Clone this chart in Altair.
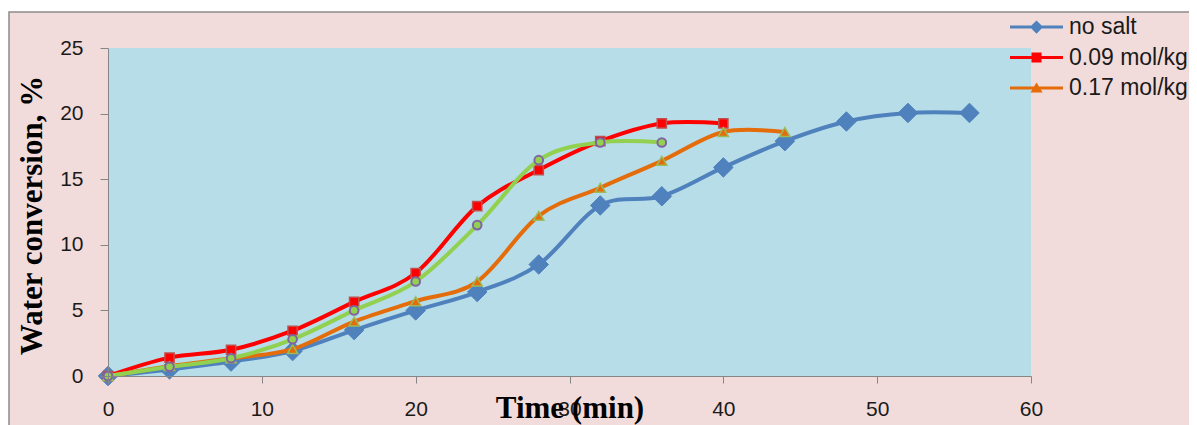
import altair as alt
import pandas as pd

# ---- data ----
series_names = ["no salt", "0.09 mol/kg", "0.17 mol/kg", "series 4"]

time_no_salt = [0, 4, 8, 12, 16, 20, 24, 28, 32, 36, 40, 44, 48, 52, 56]
conv_no_salt = [0, 0.5, 1.1, 1.9, 3.5, 5.0, 6.4, 8.5, 13.0, 13.7, 15.9, 17.9, 19.4, 20.05, 20.05]

time_009 = [0, 4, 8, 12, 16, 20, 24, 28, 32, 36, 40]
conv_009 = [0, 1.4, 2.0, 3.45, 5.65, 7.85, 12.95, 15.7, 17.9, 19.25, 19.25]

time_017 = [0, 4, 8, 12, 16, 20, 24, 28, 32, 36, 40, 44]
conv_017 = [0, 0.75, 1.35, 2.05, 4.15, 5.7, 7.2, 12.2, 14.35, 16.4, 18.6, 18.6]

time_s4 = [0, 4, 8, 12, 16, 20, 24, 28, 32, 36]
conv_s4 = [0, 0.7, 1.35, 2.8, 5.0, 7.2, 11.5, 16.45, 17.8, 17.8]

x_ticks = [0, 10, 20, 30, 40, 50, 60]
y_ticks = [0, 5, 10, 15, 20, 25]

# ---- styles ----
line_colors = ["#4f81bd", "#ff0000", "#e46c0a", "#92d050"]
marker_fill = ["#4f81bd", "#ff0000", "#e46c0a", "#92d050"]
marker_stroke = ["#4f81bd", "#c0504d", "#9bbb59", "#8064a2"]
marker_stroke_w = [1, 1.5, 1.5, 2]
marker_shape = ["diamond", "square", "triangle-up", "circle"]
marker_size = [380, 85, 105, 75]

LINE = "M-1,-0.06L1,-0.06L1,0.06L-1,0.06Z"
legend_paths = [
    LINE + "M0,-0.25L0.25,0L0,0.25L-0.25,0Z",
    LINE + "M-0.19,-0.19L0.19,-0.19L0.19,0.19L-0.19,0.19Z",
    LINE + "M0,-0.21L0.23,0.17L-0.23,0.17Z",
]

rows = []
for name, ts, vs in zip(series_names,
                        [time_no_salt, time_009, time_017, time_s4],
                        [conv_no_salt, conv_009, conv_017, conv_s4]):
    for t, v in zip(ts, vs):
        rows.append({"series": name, "time": t, "conv": v})
df = pd.DataFrame(rows)

W, H = 923, 328

X = alt.X("time:Q", scale=alt.Scale(domain=[0, 60], nice=False, zero=False),
          axis=alt.Axis(values=x_ticks, title="Time (min)", grid=False, zindex=1,
                        domainColor="#868686", tickColor="#868686", tickSize=7,
                        labelFont="Liberation Sans", labelFontSize=21, labelColor="#1a1a1a",
                        labelPadding=15, labelFlush=False,
                        titleFont="Liberation Serif", titleFontWeight="bold", titleFontSize=31,
                        titleColor="#000000", titleBaseline="alphabetic", titleY=41,
                        titleX=W / 2, titleAlign="center"))
Y = alt.Y("conv:Q", scale=alt.Scale(domain=[0, 25], nice=False),
          axis=alt.Axis(values=y_ticks, title="Water conversion, %", grid=False, zindex=1,
                        domainColor="#868686", tickColor="#868686", tickSize=8,
                        labelFont="Liberation Sans", labelFontSize=21, labelColor="#1a1a1a",
                        labelPadding=17, labelFlush=False,
                        titleFont="Liberation Serif", titleFontWeight="bold", titleFontSize=31,
                        titleColor="#000000", titleBaseline="middle", titleX=-76,
                        titleY=H / 2 + 3, titleAlign="center", titleAngle=270))

one = pd.DataFrame({"k": [0]})
bg = alt.Chart(one).mark_rect(fill="#f2dcdb", stroke="#8c8c8c", strokeWidth=1.5).encode(
    x=alt.value(-99), x2=alt.value(W + 400), y=alt.value(-36), y2=alt.value(H + 300))
plotbg = alt.Chart(one).mark_rect(fill="#b7dde8").encode(
    x=alt.value(0), x2=alt.value(W), y=alt.value(0), y2=alt.value(H))

base = alt.Chart(df).encode(x=X, y=Y)

layers = [bg, plotbg]
for i, name in enumerate(series_names):
    sub = base.transform_filter(alt.datum.series == name)
    layers.append(sub.mark_line(interpolate="cardinal", strokeWidth=4, color=line_colors[i]))
    layers.append(sub.mark_point(shape=marker_shape[i], filled=True, opacity=1,
                                 fill=marker_fill[i], stroke=marker_stroke[i],
                                 strokeWidth=marker_stroke_w[i], size=marker_size[i]))

leg_def = alt.Legend(title=None, orient="none", legendX=902, legendY=-36, zindex=1,
                     labelFont="Liberation Sans", labelFontSize=23, labelColor="#1a1a1a",
                     symbolSize=2809, symbolOpacity=1, symbolStrokeWidth=0,
                     clipHeight=30, rowPadding=0.5, labelOffset=6)
leg = base.transform_filter(
    alt.FieldOneOfPredicate(field="series", oneOf=series_names[:3])
).mark_point(filled=True, opacity=0).encode(
    color=alt.Color("series:N", scale=alt.Scale(domain=series_names[:3], range=line_colors[:3]), legend=leg_def),
    shape=alt.Shape("series:N", scale=alt.Scale(domain=series_names[:3], range=legend_paths), legend=leg_def),
)
layers.append(leg)

chart = alt.layer(*layers).properties(
    width=W, height=H,
    background="white",
    autosize=alt.AutoSizeParams(type="none"),
    padding={"left": 100, "top": 40, "right": 158, "bottom": 49},
).configure_view(stroke=None)

chart.save("out.html", embed_options={"renderer": "svg", "actions": False})
